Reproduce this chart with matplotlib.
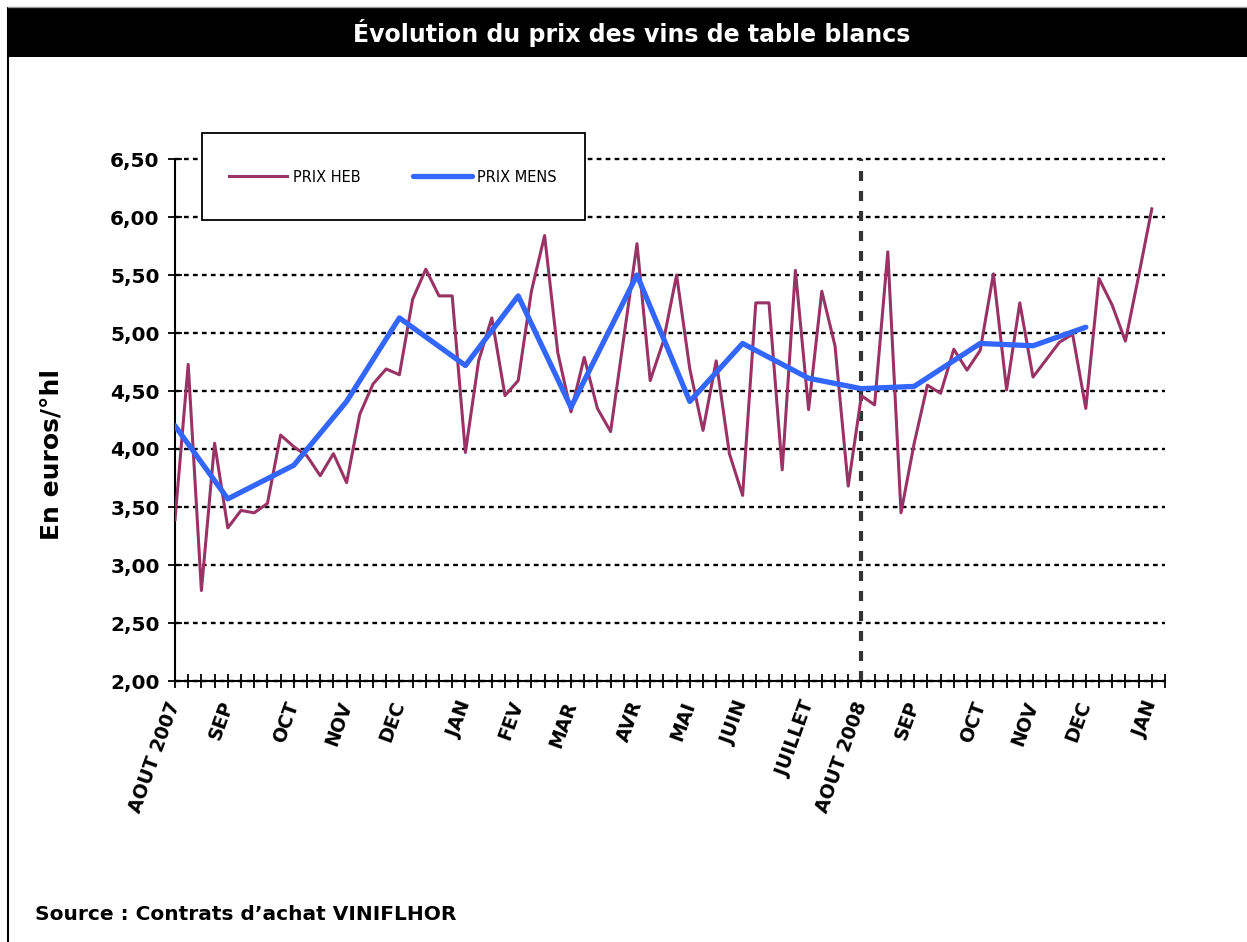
import matplotlib
matplotlib.use('Agg')
from matplotlib import pyplot as plt
from matplotlib.patches import Rectangle
from matplotlib.lines import Line2D

# Prix hebdomadaires : semaine 0 = début août 2007, semaine 74 = début janvier 2009
prix_heb = [3.39, 4.73, 2.78, 4.05, 3.32, 3.47, 3.45, 3.53, 4.12, 4.02,
            3.94, 3.77, 3.96, 3.71, 4.30, 4.56, 4.69, 4.64, 5.29, 5.55,
            5.32, 5.32, 3.97, 4.76, 5.13, 4.46, 4.59, 5.36, 5.84, 4.83,
            4.32, 4.79, 4.35, 4.15, 4.96, 5.77, 4.59, 4.93, 5.50, 4.69,
            4.16, 4.76, 3.96, 3.60, 5.26, 5.26, 3.82, 5.54, 4.34, 5.36,
            4.89, 3.68, 4.46, 4.38, 5.70, 3.45, 4.05, 4.55, 4.48, 4.86,
            4.68, 4.85, 5.51, 4.51, 5.26, 4.62, 4.77, 4.92, 4.99, 4.35,
            5.47, 5.24, 4.93, 5.49, 6.07]

# Prix mensuels, placés sur la première semaine de chaque mois
mois_pos = [0, 4, 9, 13, 17, 22, 26, 30, 35, 39, 43, 48, 52, 56, 61, 65, 69]
prix_mens = [4.20, 3.57, 3.86, 4.41, 5.13, 4.72, 5.32, 4.36, 5.50, 4.41,
             4.91, 4.61, 4.52, 4.54, 4.91, 4.89, 5.05]

# Libellés de l'axe des x
label_pos = [0, 4, 9, 13, 17, 22, 26, 30, 35, 39, 43, 48, 52, 56, 61, 65, 69, 74]
label_txt = ['AOUT 2007', 'SEP', 'OCT', 'NOV', 'DEC', 'JAN', 'FEV', 'MAR', 'AVR',
             'MAI', 'JUIN', 'JUILLET', 'AOUT 2008', 'SEP', 'OCT', 'NOV', 'DEC', 'JAN']
y_ticks = [2.0, 2.5, 3.0, 3.5, 4.0, 4.5, 5.0, 5.5, 6.0, 6.5]

W, H = 1247, 942

def fx(px):
    return px / W

def fy(py):
    return 1 - py / H

fig = plt.figure(figsize=(W / 100, H / 100), dpi=100)

# Cadre et bandeau du titre
fig.add_artist(Rectangle((fx(8), fy(57)), 1, fy(8) - fy(57),
                         transform=fig.transFigure, facecolor='black', edgecolor='none'))
fig.add_artist(Line2D([fx(8), fx(8)], [0, fy(8)], transform=fig.transFigure,
                      color='black', lw=1.5))
fig.add_artist(Line2D([fx(8), 1], [fy(7), fy(7)], transform=fig.transFigure,
                      color='#999999', lw=1))
fig.text(fx(632), fy(33), "Évolution du prix des vins de table blancs",
         color='white', fontsize=17, fontweight='bold', ha='center', va='center')

ax = fig.add_axes([fx(175), fy(681), fx(1165) - fx(175), fy(159) - fy(681)])

ax.plot(range(len(prix_heb)), prix_heb, color='#993366', lw=2.2,
        label='PRIX HEB', solid_joinstyle='round', zorder=3)
ax.plot(mois_pos, prix_mens, color='#3366FF', lw=3.8, label='PRIX MENS',
        solid_joinstyle='round', solid_capstyle='round', zorder=4)

ax.set_xlim(0, 75)
ax.set_ylim(2, 6.5)

ax.set_yticks(y_ticks)
ax.set_yticklabels([f'{v:.2f}'.replace('.', ',') for v in y_ticks],
                   fontweight='bold', fontsize=14.5)
ax.yaxis.grid(True, color='black', lw=1.7, ls=(0, (2.0, 1.8)))
ax.set_axisbelow(True)
for gl in ax.get_ygridlines():
    gl.set_clip_on(False)

labels = [''] * 76
for p, t in zip(label_pos, label_txt):
    labels[p] = t
ax.set_xticks(range(76))
ax.set_xticklabels(labels, rotation=70, ha='right', va='center',
                   rotation_mode='anchor', fontweight='bold', fontsize=13.5)

ax.axvline(52, color='#333333', lw=3, ls=(0, (2.4, 2.4)), zorder=2)

for s in ['top', 'right']:
    ax.spines[s].set_visible(False)
for s in ['left', 'bottom']:
    ax.spines[s].set_linewidth(1.5)
ax.tick_params(axis='x', direction='inout', length=10, width=1.3, pad=10)
ax.tick_params(axis='y', direction='inout', length=10, width=1.3, pad=6)

ax.set_ylabel('En euros/°hl', fontsize=18, fontweight='bold')
ax.yaxis.set_label_coords(fx(52), fy(455), transform=fig.transFigure)
ax.yaxis.label.set_va('center')

# Légende dans son cadre
fig.add_artist(Rectangle((fx(202), fy(220)), fx(585) - fx(202), fy(133) - fy(220),
                         transform=fig.transFigure, facecolor='white',
                         edgecolor='black', lw=1.3, zorder=5))
leg = fig.legend(loc='center', bbox_to_anchor=(fx(393), fy(177)),
                 bbox_transform=fig.transFigure, ncol=2, frameon=False,
                 handlelength=4.0, handletextpad=0.4, columnspacing=3.6,
                 fontsize=10.5)
leg.set_zorder(6)

fig.text(fx(35), fy(914), "Source : Contrats d’achat VINIFLHOR",
         fontsize=14.5, fontweight='bold', ha='left', va='center')

fig.savefig('out.png', dpi=100)
